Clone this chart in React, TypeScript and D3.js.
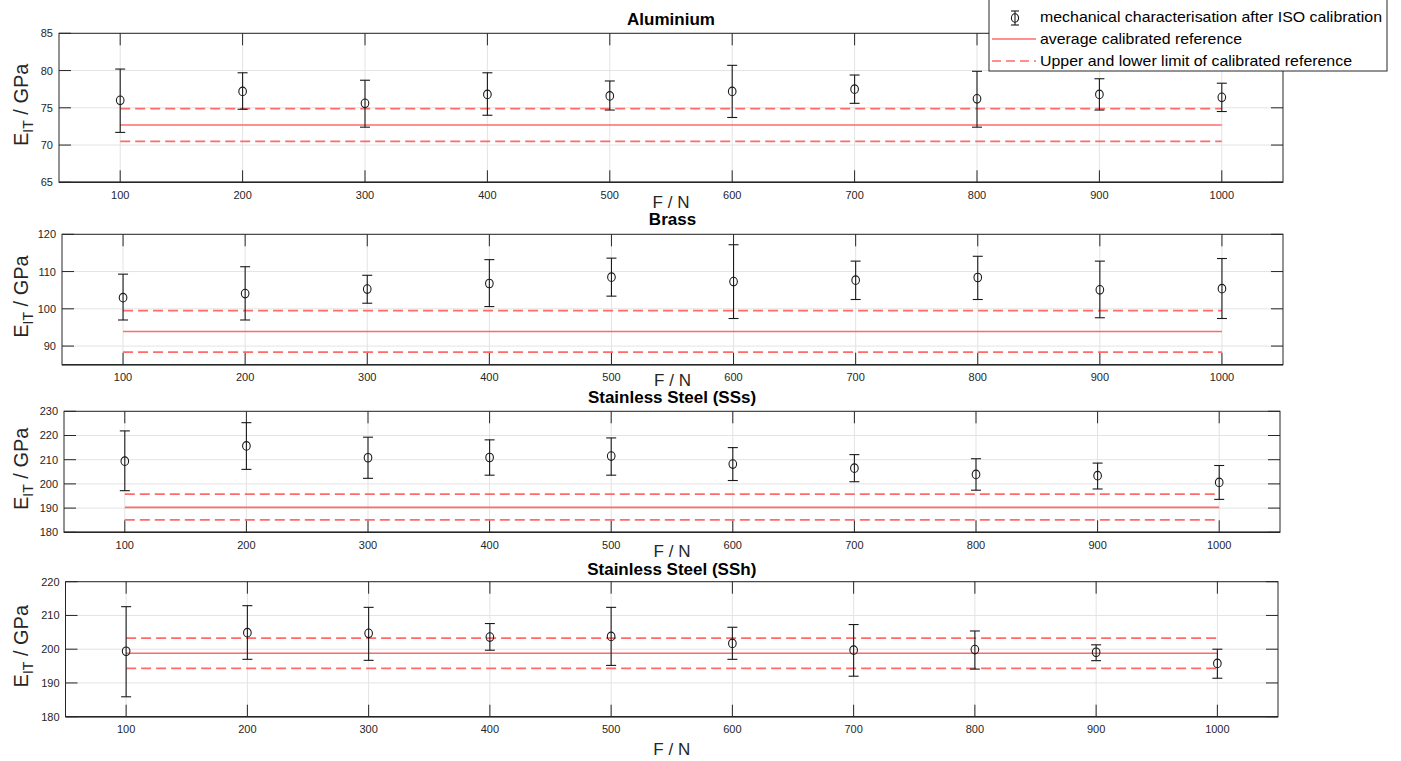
import React from "react";
import * as d3 from "d3";

// applied force (N)
const forces = [100, 200, 300, 400, 500, 600, 700, 800, 900, 1000];

// Aluminium
const alMean = [76.0, 77.2, 75.6, 76.8, 76.6, 77.2, 77.5, 76.2, 76.8, 76.4];
const alLow = [71.7, 74.8, 72.4, 74.0, 74.7, 73.7, 75.6, 72.4, 74.7, 74.5];
const alHigh = [80.2, 79.7, 78.7, 79.7, 78.6, 80.7, 79.4, 79.9, 78.9, 78.3];
const alRef = [70.5, 72.7, 74.9]; // lower, average, upper
const alTicks = [65, 70, 75, 80, 85];

// Brass
const brMean = [103.0, 104.1, 105.3, 106.8, 108.5, 107.3, 107.7, 108.4, 105.1, 105.4];
const brLow = [97.0, 97.0, 101.5, 100.6, 103.4, 97.4, 102.5, 102.5, 97.6, 97.4];
const brHigh = [109.3, 111.3, 109.0, 113.2, 113.6, 117.2, 112.8, 114.1, 112.8, 113.5];
const brRef = [88.4, 93.9, 99.5];
const brTicks = [90, 100, 110, 120];

// Stainless steel (SSs)
const ssMean = [209.4, 215.7, 210.8, 210.9, 211.5, 208.2, 206.5, 203.9, 203.4, 200.6];
const ssLow = [197.2, 206.0, 202.3, 203.6, 203.6, 201.4, 200.9, 197.4, 197.9, 193.6];
const ssHigh = [221.9, 225.3, 219.3, 218.2, 219.0, 215.0, 212.1, 210.4, 208.6, 207.6];
const ssRef = [185.1, 190.3, 195.8];
const ssTicks = [180, 190, 200, 210, 220, 230];

// Stainless steel (SSh)
const shMean = [199.4, 204.9, 204.7, 203.6, 203.8, 201.7, 199.7, 199.9, 199.1, 195.8];
const shLow = [185.9, 197.0, 196.7, 199.7, 195.2, 197.0, 192.0, 194.1, 196.6, 191.4];
const shHigh = [212.6, 212.9, 212.4, 207.6, 212.4, 206.5, 207.3, 205.4, 201.3, 200.0];
const shRef = [194.3, 198.8, 203.3];
const shTicks = [180, 190, 200, 210, 220];

const legendLabels = [
  "mechanical characterisation after ISO calibration",
  "average calibrated reference",
  "Upper and lower limit of calibrated reference",
];

const panels = [
  { title: "Aluminium", mean: alMean, low: alLow, high: alHigh, ref: alRef, ticks: alTicks, domain: [65, 85],
    top: 33.3, bottom: 182.3, left: 59, right: 1283, titleY: 25, flabY: 208 },
  { title: "Brass", mean: brMean, low: brLow, high: brHigh, ref: brRef, ticks: brTicks, domain: [85, 120],
    top: 234.3, bottom: 364.7, left: 62, right: 1283, titleY: 225, flabY: 386 },
  { title: "Stainless Steel (SSs)", mean: ssMean, low: ssLow, high: ssHigh, ref: ssRef, ticks: ssTicks, domain: [180, 230],
    top: 411.3, bottom: 532.3, left: 64, right: 1280, titleY: 403, flabY: 557 },
  { title: "Stainless Steel (SSh)", mean: shMean, low: shLow, high: shHigh, ref: shRef, ticks: shTicks, domain: [180, 220],
    top: 581.7, bottom: 716.7, left: 65.5, right: 1278, titleY: 575, flabY: 755 },
];

const FONT = "'Liberation Sans', Arial, Helvetica, sans-serif";
const AXIS = "#262626";
const GRID = "#e3e3e3";
const RED = "#ff6b6b";
const TICK_LEN = 12;

function Panel({ p }) {
  const x = d3.scaleLinear().domain([50, 1050]).range([p.left, p.right]);
  const y = d3.scaleLinear().domain(p.domain).range([p.bottom, p.top]);
  const cx = (p.left + p.right) / 2;
  const cy = (p.top + p.bottom) / 2;
  const [lo, avg, hi] = p.ref;

  return (
    <g>
      {/* grid */}
      {forces.map(f => (
        <line key={"gx" + f} x1={x(f)} x2={x(f)} y1={p.top} y2={p.bottom} stroke={GRID} />
      ))}
      {p.ticks.map(t => (
        <line key={"gy" + t} x1={p.left} x2={p.right} y1={y(t)} y2={y(t)} stroke={GRID} />
      ))}

      {/* ticks inside the box */}
      {forces.map(f => (
        <g key={"tx" + f} stroke={AXIS} strokeWidth={1}>
          <line x1={x(f)} x2={x(f)} y1={p.bottom} y2={p.bottom - TICK_LEN} />
          <line x1={x(f)} x2={x(f)} y1={p.top} y2={p.top + TICK_LEN} />
        </g>
      ))}
      {p.ticks.map(t => (
        <g key={"ty" + t} stroke={AXIS} strokeWidth={1}>
          <line x1={p.left} x2={p.left + TICK_LEN} y1={y(t)} y2={y(t)} />
          <line x1={p.right} x2={p.right - TICK_LEN} y1={y(t)} y2={y(t)} />
        </g>
      ))}

      {/* reference lines */}
      <line x1={x(100)} x2={x(1000)} y1={y(avg)} y2={y(avg)} stroke={RED} strokeWidth={1.6} />
      <line x1={x(100)} x2={x(1000)} y1={y(hi)} y2={y(hi)} stroke={RED} strokeWidth={1.8} strokeDasharray="10 5" />
      <line x1={x(100)} x2={x(1000)} y1={y(lo)} y2={y(lo)} stroke={RED} strokeWidth={1.8} strokeDasharray="10 5" />

      {/* error bars */}
      {forces.map((f, i) => (
        <g key={"eb" + f} stroke="#1a1a1a" strokeWidth={1.1} fill="none">
          <line x1={x(f)} x2={x(f)} y1={y(p.low[i])} y2={y(p.high[i])} />
          <line x1={x(f) - 5} x2={x(f) + 5} y1={y(p.low[i])} y2={y(p.low[i])} />
          <line x1={x(f) - 5} x2={x(f) + 5} y1={y(p.high[i])} y2={y(p.high[i])} />
          <ellipse cx={x(f)} cy={y(p.mean[i])} rx={3.8} ry={4.3} />
        </g>
      ))}

      {/* box */}
      <rect x={p.left} y={p.top} width={p.right - p.left} height={p.bottom - p.top}
        fill="none" stroke={AXIS} strokeWidth={1} />
      <line x1={p.left} x2={p.right} y1={p.bottom} y2={p.bottom} stroke={AXIS} strokeWidth={1.6} />

      {/* tick labels */}
      {forces.map(f => (
        <text key={"lx" + f} x={x(f)} y={p.bottom + 16.5} textAnchor="middle"
          fontSize={11} fill={AXIS} fontFamily={FONT}>{f}</text>
      ))}
      {p.ticks.map(t => (
        <text key={"ly" + t} x={p.left - 6} y={y(t)} dy="0.36em" textAnchor="end"
          fontSize={11} fill={AXIS} fontFamily={FONT}>{t}</text>
      ))}

      {/* labels */}
      <text x={cx} y={p.titleY} textAnchor="middle" fontSize={17} fontWeight="bold"
        fill="#000" fontFamily={FONT}>{p.title}</text>
      <text x={cx} y={p.flabY} textAnchor="middle" fontSize={17} fill={AXIS} fontFamily={FONT}>F / N</text>
      <text transform={`translate(27.5, ${cy - 3}) rotate(-90)`} textAnchor="middle"
        fontSize={20} fill={AXIS} fontFamily={FONT}>
        E<tspan dy={5} fontSize={14}>IT</tspan><tspan dy={-5}> / GPa</tspan>
      </text>
    </g>
  );
}

function Legend() {
  const lx = 989, rx = 1387, by = 71;
  const rows = [17, 39, 61];
  const widths = [342, 202, 312];
  return (
    <g>
      <rect x={lx} y={-1} width={rx - lx} height={by + 1} fill="#fff" stroke={AXIS} strokeWidth={1} />
      <g stroke="#1a1a1a" strokeWidth={1.1} fill="none">
        <line x1={1015} x2={1015} y1={11} y2={25} />
        <line x1={1011} x2={1019} y1={11} y2={11} />
        <line x1={1011} x2={1019} y1={25} y2={25} />
        <ellipse cx={1015} cy={18} rx={3.6} ry={4.2} />
      </g>
      <line x1={992} x2={1036} y1={rows[1]} y2={rows[1]} stroke={RED} strokeWidth={1.6} />
      <line x1={992} x2={1036} y1={rows[2]} y2={rows[2]} stroke={RED} strokeWidth={1.6} strokeDasharray="9 5" />
      {legendLabels.map((l, i) => (
        <text key={l} x={1040} y={rows[i] + 5} fontSize={15} fill="#000" fontFamily={FONT}
          textLength={widths[i]} lengthAdjust="spacingAndGlyphs">{l}</text>
      ))}
    </g>
  );
}

export default function App() {
  return (
    <svg width={1401} height={761} viewBox="0 0 1401 761"
      style={{ position: "absolute", left: 0, top: 0, display: "block", background: "#fff" }}>
      {panels.map(p => <Panel key={p.title} p={p} />)}
      <Legend />
    </svg>
  );
}
